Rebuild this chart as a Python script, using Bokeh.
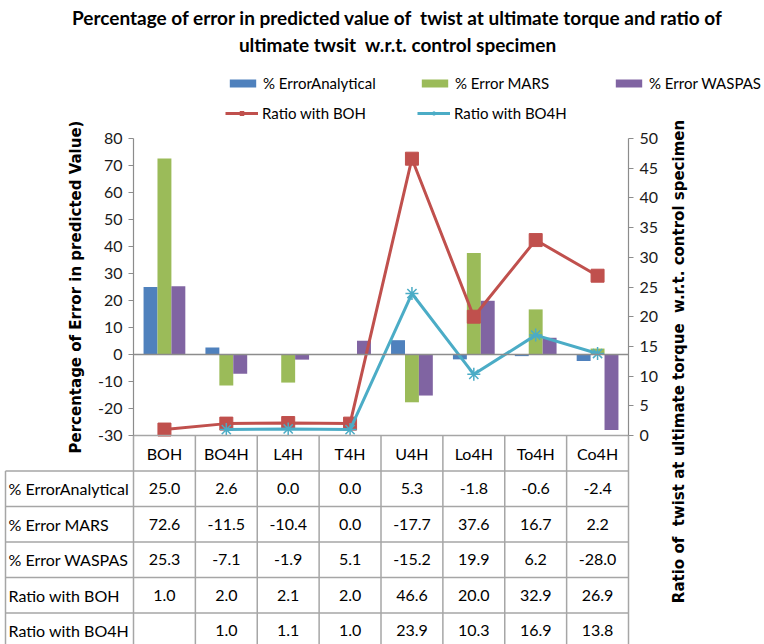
import math
from bokeh.plotting import figure
from bokeh.models import (Range1d, LinearAxis, FixedTicker, Legend, LegendItem,
                          ColumnDataSource)
from bokeh.core.properties import value
from bokeh.embed import file_html
from bokeh.resources import INLINE

# ---- data ---------------------------------------------------------------
categories = ["BOH", "BO4H", "L4H", "T4H", "U4H", "Lo4H", "To4H", "Co4H"]
err_analytical = [25.0, 2.6, 0.0, 0.0, 5.3, -1.8, -0.6, -2.4]
err_mars = [72.6, -11.5, -10.4, 0.0, -17.7, 37.6, 16.7, 2.2]
err_waspas = [25.3, -7.1, -1.9, 5.1, -15.2, 19.9, 6.2, -28.0]
ratio_boh = [1.0, 2.0, 2.1, 2.0, 46.6, 20.0, 32.9, 26.9]
ratio_bo4h = [None, 1.0, 1.1, 1.0, 23.9, 10.3, 16.9, 13.8]
left_ticks = [-30, -20, -10, 0, 10, 20, 30, 40, 50, 60, 70, 80]
right_ticks = [0, 5, 10, 15, 20, 25, 30, 35, 40, 45, 50]
row_names = ["% ErrorAnalytical", "% Error MARS", "% Error WASPAS",
             "Ratio with BOH", "Ratio with BO4H"]

BLUE, GREEN, PURPLE = "#4F81BD", "#9BBB59", "#8064A2"
RED, CYAN = "#C0504D", "#4BACC6"
GRAY = "#8C8C8C"
TABLE_LINE = "#A6A6A6"
FONT = "Lato"
AX_FONT = "DejaVu Sans"
NBSP = "\u00a0"

# ---- page geometry (pixels) ---------------------------------------------
W, H = 764, 644
P_LEFT, P_RIGHT, P_TOP, P_BOTTOM = 133, 628, 138, 435   # plotting area of the chart
ROW_H = 35.5                                            # table row height
PX_X = (P_RIGHT - P_LEFT) / len(categories)
PX_Y = (P_BOTTOM - P_TOP) / (80 - (-30))
PX_R = (P_BOTTOM - P_TOP) / 50.0

# the canvas is one frame; ranges are stretched so the chart area lands
# at the plotting area above, and the table rows below it
x_range = Range1d(-P_LEFT / PX_X, len(categories) + (W - P_RIGHT) / PX_X)
y_range = Range1d(-30 - (H - P_BOTTOM) / PX_Y, 80 + P_TOP / PX_Y)

p = figure(width=W, height=H, x_range=x_range, y_range=y_range,
           x_axis_type=None, y_axis_type=None, min_border=0,
           output_backend="svg", toolbar_location=None)
p.extra_y_ranges = {
    "ratio": Range1d(-(H - P_BOTTOM) / PX_R, 50 + P_TOP / PX_R),
    "tbl": Range1d((H - P_BOTTOM) / ROW_H, -P_BOTTOM / ROW_H),
}
p.outline_line_color = None
p.grid.visible = False

def px_x(px):
    return (px - P_LEFT) / PX_X

def px_y(py):
    return 80 + (P_TOP - py) / PX_Y

def style_axis(ax, ticks):
    ax.ticker = FixedTicker(ticks=ticks)
    # plain hyphen for negative tick labels
    ax.major_label_overrides = {t: str(t) for t in ticks}
    ax.axis_line_color = GRAY
    ax.axis_line_width = 1.2
    ax.major_tick_line_color = GRAY
    ax.major_tick_out = 5
    ax.major_tick_in = 0
    ax.minor_tick_line_color = None
    ax.major_label_text_font = FONT
    ax.major_label_text_font_size = "16px"
    ax.major_label_text_color = "#1a1a1a"
    ax.major_label_standoff = 6

left = LinearAxis(fixed_location=0, bounds=(-30, 80))
style_axis(left, left_ticks)
left.axis_label = "Percentage of Error in predicted Value)"
left.axis_label_standoff = 10
left.axis_label_text_font = AX_FONT
left.axis_label_text_font_style = "bold"
left.axis_label_text_font_size = "15px"
left.axis_label_text_color = "black"
p.add_layout(left, "left")

right = LinearAxis(y_range_name="ratio", fixed_location=len(categories), bounds=(0, 50))
style_axis(right, right_ticks)
p.add_layout(right, "right")

# category axis crossing at zero
cat_axis = LinearAxis(fixed_location=0, bounds=(0, len(categories)),
                      ticker=FixedTicker(ticks=[]), axis_line_color=GRAY, axis_line_width=1.5,
                      major_tick_line_color=None, minor_tick_line_color=None,
                      major_label_text_font_size="0px")
p.add_layout(cat_axis, "below")

# ---- bars and lines -----------------------------------------------------
xc = [i + 0.5 for i in range(len(categories))]
bw = 0.225
src = ColumnDataSource(dict(
    xa=[x - bw for x in xc], xm=xc, xw=[x + bw for x in xc],
    a=err_analytical, m=err_mars, w=err_waspas))
r_a = p.vbar(x="xa", top="a", bottom=0, width=bw, source=src, fill_color=BLUE, line_color=None)
r_m = p.vbar(x="xm", top="m", bottom=0, width=bw, source=src, fill_color=GREEN, line_color=None)
r_w = p.vbar(x="xw", top="w", bottom=0, width=bw, source=src, fill_color=PURPLE, line_color=None)

rb = [float("nan") if v is None else v for v in ratio_bo4h]
l_red = p.line(xc, ratio_boh, y_range_name="ratio", line_color=RED, line_width=3)
m_red = p.scatter(xc, ratio_boh, y_range_name="ratio", marker="square", size=13,
                  fill_color=RED, line_color=RED)
l_cyan = p.line(xc, rb, y_range_name="ratio", line_color=CYAN, line_width=3)
m_cyan = p.scatter(xc, rb, y_range_name="ratio", marker="asterisk", size=13,
                   line_color=CYAN, line_width=1.5)

# ---- titles -------------------------------------------------------------
p.text(x=[px_x(397)] * 2, y=[px_y(17), px_y(44)],
       text=[f"Percentage of error in predicted value of{NBSP} twist at ultimate torque and ratio of",
             f"ultimate twsit {NBSP}w.r.t. control specimen"],
       text_align="center", text_baseline="middle", text_font=value(FONT),
       text_font_style="bold", text_font_size="19px", text_color="black")

p.text(x=[px_x(678)], y=[px_y(361)],
       text=[f"Ratio of{NBSP} twist at ultimate torque{NBSP} w.r.t. control specimen"],
       angle=math.pi / 2, text_align="center", text_baseline="middle",
       text_font=value(AX_FONT), text_font_style="bold", text_font_size="15px",
       text_color="black")

# ---- legend -------------------------------------------------------------
legend_specs = [
    ("% ErrorAnalytical", [r_a], 226, 83),
    ("% Error MARS", [r_m], 418, 83),
    ("% Error WASPAS", [r_w], 612, 83),
    ("Ratio with BOH", [l_red, m_red], 225, 113),
    ("Ratio with BO4H", [l_cyan, m_cyan], 417, 113),
]
for lab, rends, lx, ly in legend_specs:
    lg = Legend(items=[LegendItem(label=lab, renderers=rends)],
                location=(lx, H - ly - 10),
                margin=0, padding=0, border_line_color=None, background_fill_alpha=0,
                glyph_width=33, glyph_height=10, label_standoff=4,
                label_text_font=FONT, label_text_font_size="15px",
                label_text_color="black", label_height=20)
    p.add_layout(lg, "center")

# ---- data table under the chart -----------------------------------------
n = len(categories)
x_tbl = px_x(5)
y_end = (H - P_BOTTOM) / ROW_H + 0.5
h_x0 = [0] + [x_tbl] * 5
h_x1 = [n] * 6
h_y = [0, 1, 2, 3, 4, 5]
v_x = list(range(n + 1)) + [x_tbl]
v_y0 = [0] * (n + 1) + [1]
p.segment(x0=h_x0, y0=h_y, x1=h_x1, y1=h_y, y_range_name="tbl",
          line_color=TABLE_LINE, line_width=1.5)
p.segment(x0=v_x, y0=v_y0, x1=v_x, y1=[y_end] * len(v_x), y_range_name="tbl",
          line_color=TABLE_LINE, line_width=1.5)

tx, ty, tt = [], [], []
for i, c in enumerate(categories):
    tx.append(i + 0.5); ty.append(0.5); tt.append(c)
series = [err_analytical, err_mars, err_waspas, ratio_boh, ratio_bo4h]
for r, vals in enumerate(series, start=1):
    for i, v in enumerate(vals):
        if v is not None:
            tx.append(i + 0.5); ty.append(r + 0.5); tt.append(f"{v:.1f}")
p.text(x=tx, y=ty, text=tt, y_range_name="tbl", text_align="center",
       text_baseline="middle", text_font=value(FONT), text_font_size="16px",
       text_color="black")
p.text(x=[x_tbl + 3 / PX_X] * 5, y=[r + 0.5 for r in range(1, 6)], text=row_names,
       y_range_name="tbl", text_align="left", text_baseline="middle",
       text_font=value(FONT), text_font_size="16px", text_color="black")

open("out.html", "w").write(file_html(p, INLINE))
